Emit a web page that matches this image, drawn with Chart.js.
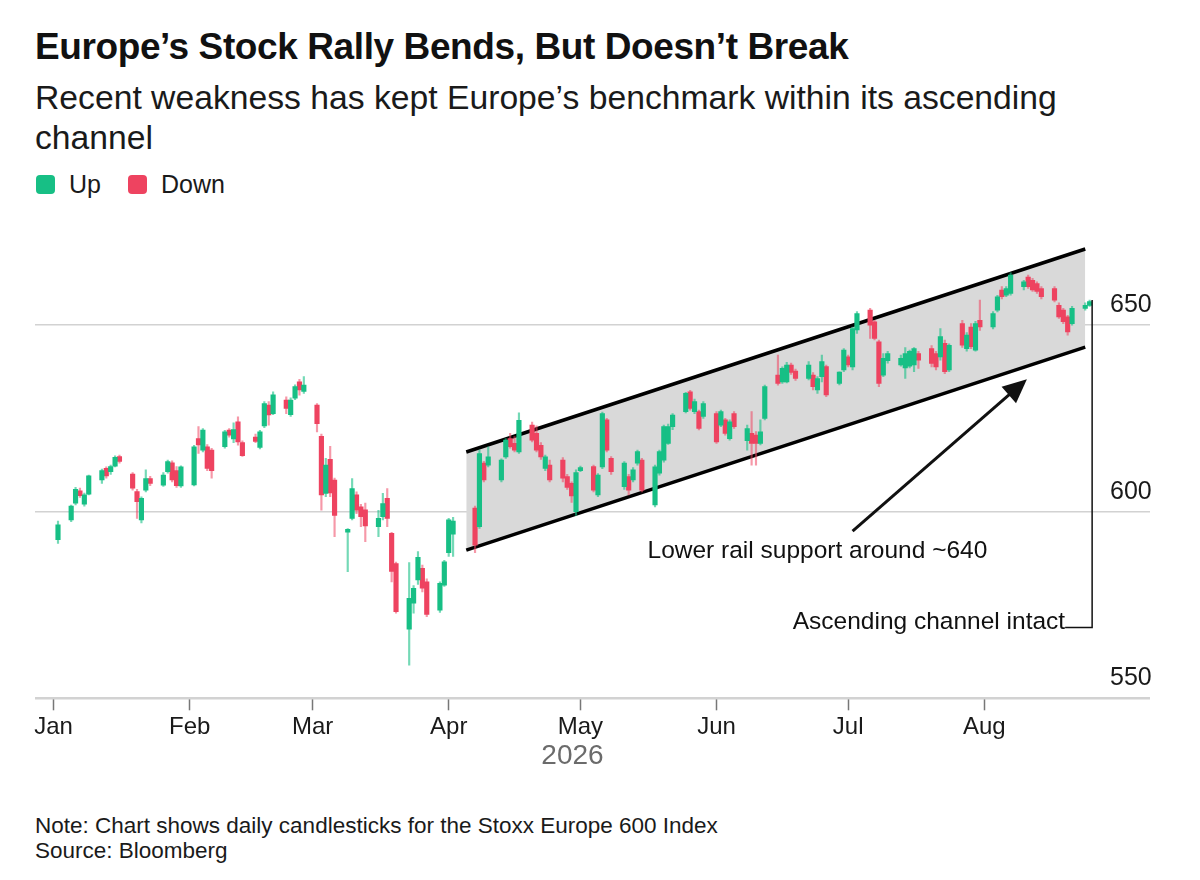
<!DOCTYPE html>
<html>
<head>
<meta charset="utf-8">
<title>Europe's Stock Rally Bends, But Doesn't Break</title>
<script src="https://cdn.jsdelivr.net/npm/chart.js@4.4.1/dist/chart.umd.min.js"></script>
<style>
  html, body { margin: 0; padding: 0; background: #fff; }
  body {
    width: 1200px; height: 880px; position: relative; overflow: hidden;
    font-family: "Liberation Sans", Arial, Helvetica, sans-serif; color: #111;
  }
  .title { position: absolute; left: 35px; top: 25px; margin: 0; font-size: 37px; line-height: 44px; font-weight: bold; letter-spacing: -0.4px; }
  .subtitle { position: absolute; left: 35px; top: 77px; margin: 0; font-size: 33.7px; line-height: 40px; color: #1a1a1a; }
  .legend { position: absolute; left: 36px; top: 170px; height: 28px; display: flex; align-items: center; font-size: 25px; color: #1a1a1a; }
  .legend .item { display: flex; align-items: center; margin-right: 27px; }
  .legend .sw { display: inline-block; width: 19px; height: 19px; border-radius: 4px; margin-right: 14px; }
  .chart-box { position: absolute; left: 0; top: 200px; width: 1200px; height: 600px; }
  .notes { position: absolute; left: 35px; top: 813px; font-size: 22.5px; line-height: 25px; color: #1a1a1a; }
</style>
</head>
<body>
<h1 class="title">Europe’s Stock Rally Bends, But Doesn’t Break</h1>
<p class="subtitle">Recent weakness has kept Europe’s benchmark within its ascending<br>channel</p>
<div class="legend">
  <span class="item"><span class="sw" style="background:#17bf85"></span>Up</span>
  <span class="item"><span class="sw" style="background:#ee4360"></span>Down</span>
</div>
<div class="chart-box"><canvas id="chart"></canvas></div>
<div class="notes">Note: Chart shows daily candlesticks for the Stoxx Europe 600 Index<br>Source: Bloomberg</div>

<script>
// trading calendar (weekdays, minus exchange holidays)
const firstSession = '2026-01-02';
const lastSession = '2026-08-25';
const holidays = ['2026-01-01', '2026-04-03', '2026-04-06'];

// daily OHLC (Jan..Aug)
const openPx = [
  592.5, 597.8, 602.3, 605.6, 602, 604.7, 608.5, 611.6, 610.7, 612.2, 614.8, 610.1, 605.4, 597.8, 605.8, 608.9, 607.1, 610.7, 613.1, 611, 606.9,
  607.2, 619.6, 616.5, 617.4, 616.5, 617.4, 621.9, 619.5, 624.1, 618.5, 620, 617.2, 623, 628.6, 626.3, 629.9, 626, 630.4, 634.8, 632.2,
  628.6, 620.2, 604.9, 614, 608.5, 594.5, 598.2, 604.5, 601.3, 600.5, 596, 598.7, 603.6, 594.2, 586.1, 568.5, 575.5, 581.7, 584.8, 581.2, 573.6, 580.3,
  589, 594, 601, 596, 613, 612.5, 608.5, 614.7, 619.6, 618.3, 616, 623.2, 621, 617.8, 611.6, 612.5, 613.8, 609.4, 607.6, 600,
  611, 612.1, 604.5, 612, 624.6, 614.3, 606.7, 609.4, 608.5, 613, 613.8, 601.8, 610.3, 613.8, 618.3, 622.8, 626.8, 632.1, 626.8, 626.8, 625.5,
  626.3, 623.2, 624.6, 619.6, 626.3, 619, 621, 620.5, 618.3, 625, 636.6, 634.8, 634.8, 639.3, 637.7, 635.7, 636.6, 632.6, 636.2, 638.9, 634.4, 638,
  641.5, 638.8, 648.7, 654, 650.9, 645.5, 636.6, 640.5, 639.3, 638.5, 639, 639.3, 642.4, 643.7, 642.4, 641.5, 645.1, 638, 650.4, 643.7, 649.5, 643.3, 651.3,
  649.5, 654, 659.4, 658, 658.5, 660.3, 662.9, 662, 661.1, 659.8, 659.8, 655.3, 654, 652.2, 650.4, 654.5, 655.3
];
const highPx = [
  597.5, 601.8, 606.5, 606.3, 605, 609.8, 611.4, 612, 612.5, 615, 615.2, 610.5, 606, 604, 611.2, 609.5, 610.5, 613.8, 613.6, 612.1, 612.3,
  617.8, 622.8, 622.3, 618, 617, 621.8, 622.3, 623.8, 625.4, 619, 620.8, 621.8, 629.5, 629.5, 632.1, 630.8, 630.5, 634, 635.5, 636.2,
  629, 620.8, 614.3, 617.5, 609, 595.5, 608.9, 605.3, 602, 602.3, 600.4, 604.9, 606.2, 594.5, 586.5, 586.4, 580.2, 589.3, 585.7, 582, 581.2, 587,
  598.2, 598.5, 601.5, 616.5, 613.5, 617.4, 614.2, 619.6, 621, 620.1, 626.5, 624, 623, 618.5, 615.2, 613.8, 614.5, 610, 608, 611.2,
  612.2, 612.5, 610.2, 626.7, 625, 614.8, 613.4, 610, 611.8, 616.5, 614.3, 612.5, 616.5, 623.2, 623.5, 626.3, 632, 632.5, 630.2, 627.2, 629.5,
  626.8, 627.2, 625, 624.6, 626.8, 623.2, 626.8, 621.5, 624.6, 633.9, 642, 638.8, 640, 639.8, 638.2, 640.2, 637.3, 636.2, 642, 639.3, 637.5, 643.7,
  642, 649.5, 653.6, 654.5, 651.3, 646, 642.4, 643, 642, 644, 643.3, 644, 643, 644.5, 643, 649.1, 646, 645, 651.3, 648, 650.4, 651, 656.7,
  653.6, 658, 660.3, 660.3, 664, 662, 663.4, 662.5, 661.6, 660.3, 660.3, 656, 654.5, 652.6, 655, 656, 656.7
];
const lowPx = [
  591.5, 597.3, 601.8, 603.8, 601.5, 604.5, 607.6, 609, 610, 612, 613, 605.8, 598.2, 597, 605.3, 607, 606.8, 610.3, 608, 606.5, 606.5,
  606.9, 615.6, 616, 611, 609, 617, 620, 618.5, 617.8, 614.8, 618.5, 616.8, 622.5, 623.2, 626, 626.3, 625.5, 630, 631.2, 631.7,
  621.4, 600.4, 604, 604, 593.3, 583.9, 597.8, 599.5, 596, 592, 593.3, 597.8, 596, 581.2, 572.8, 558.9, 572.8, 580.5, 578.5, 571.9, 573, 580,
  588, 588, 589, 595.5, 608, 612, 608, 614.3, 617, 616, 615.6, 618.7, 616, 614, 611, 608, 608, 606, 602.5, 599,
  610.7, 605.3, 604, 611.5, 616, 610, 606, 604.5, 608, 612.5, 605.3, 601.3, 609.8, 613.3, 618, 622, 626.5, 627.2, 626.3, 621.9, 625,
  618.3, 622.8, 620.5, 619.2, 622.3, 616.5, 612.5, 612.5, 617.9, 624.6, 633.9, 634.4, 634.5, 636.8, 635.2, 635.3, 632.6, 631.7, 634.8, 630.8, 634, 637.5,
  638.8, 638, 647.8, 646.4, 646, 633.5, 636.2, 639.8, 639, 635.7, 638.5, 637.5, 638.4, 638.8, 638, 640.6, 637, 637.5, 644, 643, 643.7, 643, 648.6,
  649, 653.5, 657, 657.6, 658, 659.4, 659.8, 659, 658.5, 657, 656.2, 651.8, 650.4, 647.3, 650, 654, 655
];
const closePx = [
  596.5, 601.5, 606, 604.3, 604.5, 609.6, 611, 609.6, 612.1, 614.6, 613.5, 606.3, 602.7, 603.6, 608.9, 607.6, 609.8, 613.4, 608.5, 607, 612,
  617.4, 617.9, 621.9, 611.6, 611, 621.4, 620.5, 622, 618.7, 615, 618.8, 621.4, 629, 625.9, 631.3, 627.7, 629.9, 633.5, 632.6, 633.9,
  623.6, 604.5, 612.5, 605, 599, 595.3, 606.2, 600.4, 598.7, 596.2, 598.2, 602.2, 598.2, 584, 573.2, 576.8, 579.5, 587.8, 579.5, 572.5, 580.8, 586.6,
  597.8, 597.5, 591, 615.6, 608.5, 614.7, 613.8, 619.2, 617.4, 616.5, 624.5, 619.2, 616.5, 614.7, 614.7, 608.5, 609, 606.5, 604.2, 610.5,
  611.8, 605.8, 609.8, 626.3, 616.5, 610.7, 613, 605.8, 611.2, 616.1, 605.8, 612, 616.1, 622.8, 622.8, 625.9, 631.7, 627.7, 629.5, 622.3, 629,
  618.7, 626.8, 621, 624.1, 622.8, 622.3, 618.3, 618.3, 621.4, 633.5, 634.4, 638.4, 639.3, 637.3, 635.7, 639.3, 633.5, 635.7, 640.2, 631.3, 637.4, 643.3,
  639.3, 649.1, 653.1, 650, 646.4, 634.4, 641.1, 642.4, 641.1, 642.4, 643, 643.7, 640.6, 639.7, 638.8, 646.9, 637.5, 644.6, 644.6, 647.3, 644.2, 650.4, 649.5,
  653.1, 657.6, 657.6, 659.8, 663.4, 661.6, 660.3, 659.4, 659, 657.6, 656.7, 652.2, 650.9, 648.2, 654.5, 655.3, 656.3
];

// axes
const monthLabels = ['Jan', 'Feb', 'Mar', 'Apr', 'May', 'Jun', 'Jul', 'Aug'];
const monthStarts = ['2026-01-01', '2026-02-01', '2026-03-01', '2026-04-01', '2026-05-01', '2026-06-01', '2026-07-01', '2026-08-01'];
const yearLabel = '2026';
const yTicks = [550, 600, 650];

// ascending channel (two rails)
const channelDates = ['2026-04-05', '2026-08-24'];
const channelUpper = [616.0, 670.4];
const channelLower = [589.7, 644.1];

// callouts
const arrowTail = ['2026-07-02', 594.8];
const arrowTip = ['2026-08-10T17:00:00', 635.5];
const railNote = ['2026-06-24', 589.5, 'Lower rail support around ~640'];
const channelNote = [569, 'Ascending channel intact'];

const UP = '#17bf85', DOWN = '#ee4360';
const UP_WICK = 'rgba(23,191,133,0.6)', DOWN_WICK = 'rgba(238,67,96,0.55)';
const FONT = '"Liberation Sans", Arial, Helvetica, sans-serif';

const DAY0 = Date.parse('2026-01-01T00:00:00Z');
function dayIndex(s) {
  const iso = s.length > 10 ? s + 'Z' : s + 'T00:00:00Z';
  return (Date.parse(iso) - DAY0) / 864e5;
}

function sessionDays() {
  const out = [];
  const end = Date.parse(lastSession + 'T00:00:00Z');
  for (let t = Date.parse(firstSession + 'T00:00:00Z'); t <= end; t += 864e5) {
    const d = new Date(t);
    const iso = d.toISOString().slice(0, 10);
    if (d.getUTCDay() === 0 || d.getUTCDay() === 6 || holidays.includes(iso)) continue;
    out.push(dayIndex(iso));
  }
  return out;
}

const sessions = sessionDays();
if (sessions.length !== openPx.length) console.warn('sessions', sessions.length, 'bars', openPx.length);

const upIdx = [], downIdx = [];
openPx.forEach((o, i) => (closePx[i] >= o ? upIdx : downIdx).push(i));
const bodies = idx => idx.map(i => ({ x: sessions[i], y: [openPx[i], closePx[i]] }));
const wicks = idx => idx.map(i => ({ x: sessions[i], y: [lowPx[i], highPx[i]] }));
const monthDays = monthStarts.map(dayIndex);

// arrow, note texts and the bracket to the last candle
const callouts = {
  id: 'callouts',
  afterDatasetsDraw(chart) {
    const { ctx, scales: { x, y } } = chart;
    ctx.save();
    ctx.strokeStyle = '#111';
    ctx.fillStyle = '#111';

    // arrow
    const x0 = x.getPixelForValue(dayIndex(arrowTail[0])), y0 = y.getPixelForValue(arrowTail[1]);
    const x1 = x.getPixelForValue(dayIndex(arrowTip[0])), y1 = y.getPixelForValue(arrowTip[1]);
    const len = Math.hypot(x1 - x0, y1 - y0), ux = (x1 - x0) / len, uy = (y1 - y0) / len;
    const head = 24, half = 11;
    ctx.lineWidth = 3;
    ctx.beginPath();
    ctx.moveTo(x0, y0);
    ctx.lineTo(x1 - ux * (head - 4), y1 - uy * (head - 4));
    ctx.stroke();
    ctx.beginPath();
    ctx.moveTo(x1, y1);
    ctx.lineTo(x1 - ux * head - uy * half, y1 - uy * head + ux * half);
    ctx.lineTo(x1 - ux * head + uy * half, y1 - uy * head - ux * half);
    ctx.closePath();
    ctx.fill();

    ctx.font = '24.5px ' + FONT;
    ctx.textAlign = 'center';
    ctx.textBaseline = 'middle';
    ctx.fillText(railNote[2], x.getPixelForValue(dayIndex(railNote[0])), y.getPixelForValue(railNote[1]));

    // bracket
    const last = sessions.length - 1;
    const bx = x.getPixelForValue(sessions[last]) + 2.5;
    const top = y.getPixelForValue(highPx[last]);
    const by = y.getPixelForValue(channelNote[0]);
    ctx.lineWidth = 1.5;
    ctx.beginPath();
    ctx.moveTo(bx, top);
    ctx.lineTo(bx, by);
    ctx.lineTo(bx - 27, by);
    ctx.stroke();
    ctx.textAlign = 'right';
    ctx.textBaseline = 'alphabetic';
    ctx.fillText(channelNote[1], bx - 27, by + 2);
    ctx.restore();
  }
};

new Chart(document.getElementById('chart'), {
  type: 'bar',
  data: {
    datasets: [
      {
        type: 'line', label: 'Channel top',
        data: channelDates.map((d, i) => ({ x: dayIndex(d), y: channelUpper[i] })),
        borderColor: '#000', borderWidth: 3.5, pointRadius: 0, fill: false, order: 3
      },
      {
        type: 'line', label: 'Channel bottom',
        data: channelDates.map((d, i) => ({ x: dayIndex(d), y: channelLower[i] })),
        borderColor: '#000', borderWidth: 3.5, pointRadius: 0,
        fill: '-1', backgroundColor: '#d9d9d9', order: 3
      },
      { label: 'Up range', data: wicks(upIdx), backgroundColor: UP_WICK, barThickness: 1.5, grouped: false, order: 2 },
      { label: 'Down range', data: wicks(downIdx), backgroundColor: DOWN_WICK, barThickness: 1.5, grouped: false, order: 2 },
      { label: 'Up', data: bodies(upIdx), backgroundColor: UP, barThickness: 4.5, minBarLength: 1.5, grouped: false, order: 1 },
      { label: 'Down', data: bodies(downIdx), backgroundColor: DOWN, barThickness: 4.5, minBarLength: 1.5, grouped: false, order: 1 }
    ]
  },
  options: {
    responsive: true,
    maintainAspectRatio: false,
    animation: false,
    layout: { padding: { left: 35, right: 45, top: 43, bottom: 22.7 } },
    plugins: { legend: { display: false }, tooltip: { enabled: false } },
    scales: {
      x: {
        type: 'linear',
        min: -4.24,
        max: 240.64,
        offset: false,
        afterBuildTicks: s => { s.ticks = monthDays.map(v => ({ value: v })); },
        afterFit: s => { s.height = 79; },
        ticks: {
          autoSkip: false, maxRotation: 0, padding: 3,
          color: '#1a1a1a', font: { family: FONT, size: 24 },
          callback: v => monthLabels[monthDays.indexOf(v)]
        },
        grid: { drawOnChartArea: false, offset: false, tickLength: 12, tickColor: '#777', tickWidth: 1.5 },
        border: { display: false },
        title: { display: true, text: yearLabel, color: '#6b6b6b', font: { family: FONT, size: 28 }, padding: { top: 0, bottom: 4 } }
      },
      y: {
        type: 'linear',
        position: 'right',
        min: 550,
        max: 672,
        afterBuildTicks: s => { s.ticks = yTicks.map(v => ({ value: v })); },
        afterFit: s => { s.width = 45; },
        ticks: { padding: -40, labelOffset: -20, color: '#1a1a1a', font: { family: FONT, size: 25 } },
        grid: {
          color: '#d2d2d2',
          lineWidth: c => (c.tick && c.tick.value === yTicks[0] ? 2.5 : 1.5),
          drawTicks: true, tickLength: 40
        },
        border: { display: false }
      }
    }
  },
  plugins: [callouts]
});
</script>
</body>
</html>
